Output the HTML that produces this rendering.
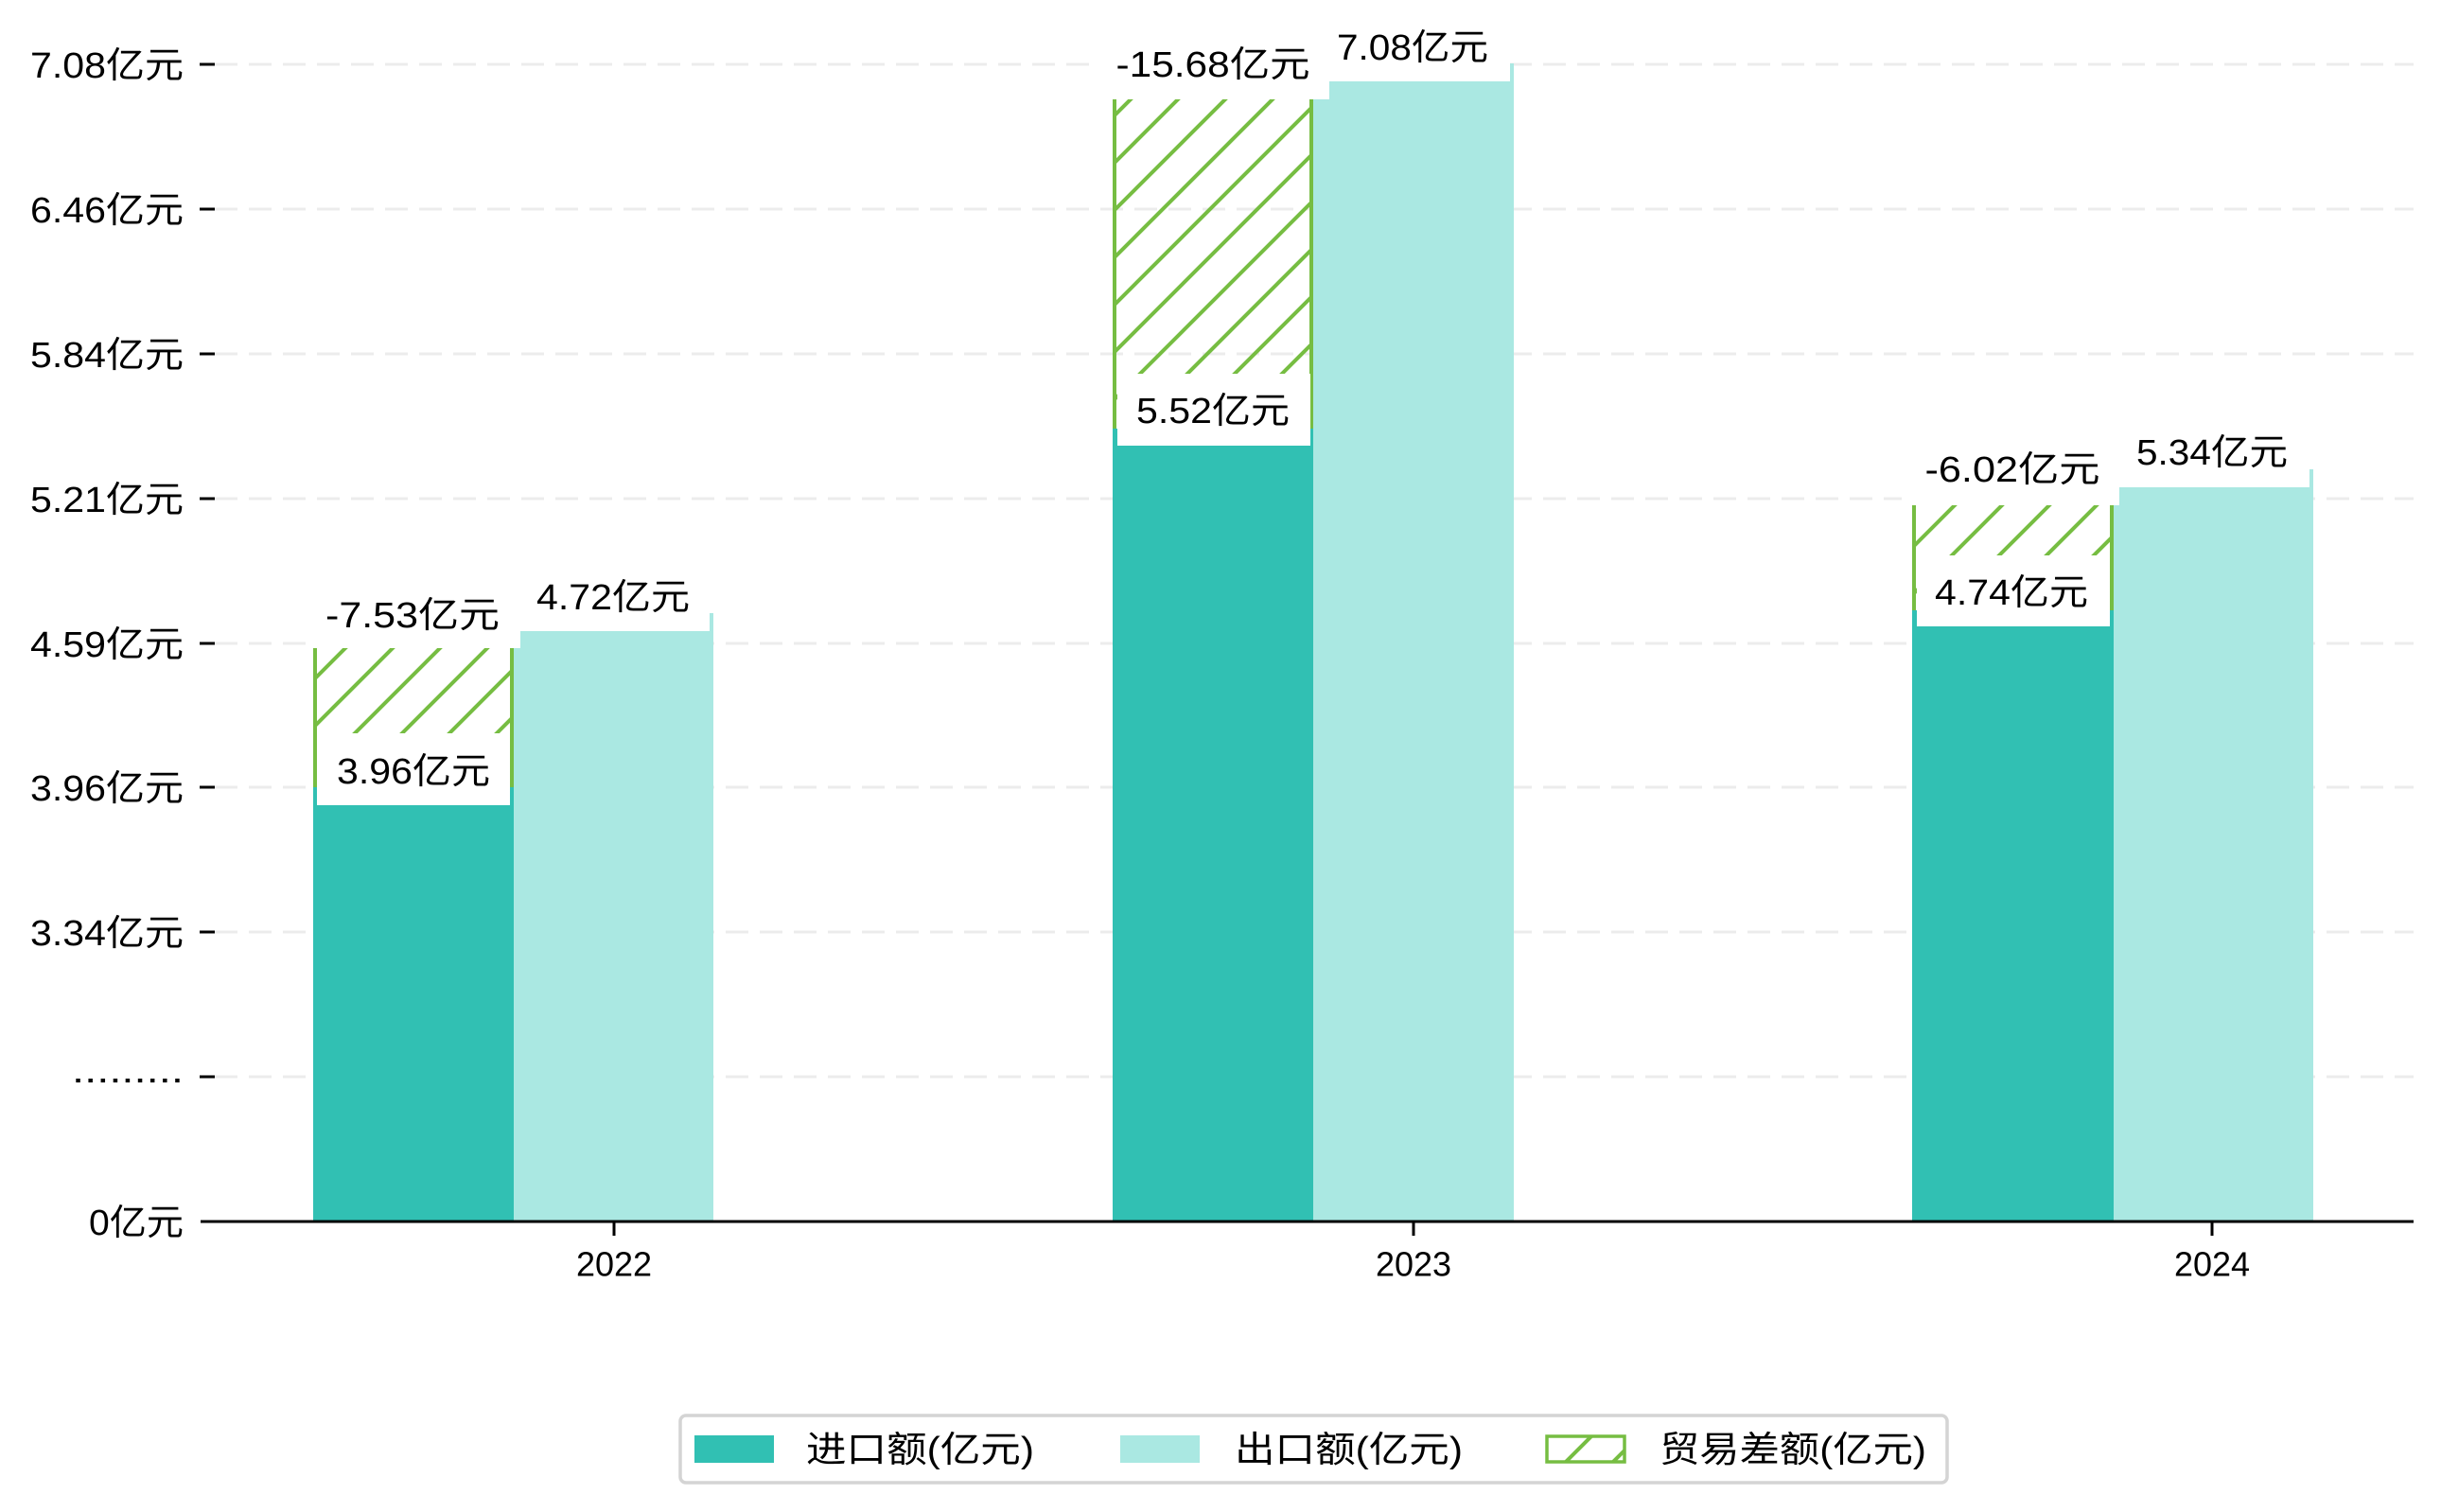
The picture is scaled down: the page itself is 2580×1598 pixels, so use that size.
<!DOCTYPE html>
<html><head><meta charset="utf-8"><style>
html,body{margin:0;padding:0;background:#fff}
svg{display:block}
text{font-family:"Liberation Sans","Noto Sans CJK SC",sans-serif;fill:#000}
</style></head><body>
<svg width="2580" height="1598" viewBox="0 0 2580 1598" xmlns="http://www.w3.org/2000/svg">
<defs>
<pattern id="h" patternUnits="userSpaceOnUse" width="50" height="50">
<path d="M-5,55 L55,-5 M-30,30 L30,-30 M20,80 L80,20" stroke="#76bd42" stroke-width="4"/>
</pattern>
</defs>
<g stroke="#ececec" stroke-width="3" stroke-dasharray="24,12">
<line x1="227" y1="68" x2="2551" y2="68"/>
<line x1="227" y1="221" x2="2551" y2="221"/>
<line x1="227" y1="374" x2="2551" y2="374"/>
<line x1="227" y1="527" x2="2551" y2="527"/>
<line x1="227" y1="680" x2="2551" y2="680"/>
<line x1="227" y1="832" x2="2551" y2="832"/>
<line x1="227" y1="985" x2="2551" y2="985"/>
<line x1="227" y1="1138" x2="2551" y2="1138"/>
</g>
<g stroke="#000" stroke-width="3">
<line x1="211" y1="68" x2="227" y2="68"/>
<line x1="211" y1="221" x2="227" y2="221"/>
<line x1="211" y1="374" x2="227" y2="374"/>
<line x1="211" y1="527" x2="227" y2="527"/>
<line x1="211" y1="680" x2="227" y2="680"/>
<line x1="211" y1="832" x2="227" y2="832"/>
<line x1="211" y1="985" x2="227" y2="985"/>
<line x1="211" y1="1138" x2="227" y2="1138"/>
</g>
<g font-size="38" text-anchor="end" dominant-baseline="central">
<text x="194" y="70" textLength="162" lengthAdjust="spacingAndGlyphs">7.08亿元</text>
<text x="194" y="223" textLength="162" lengthAdjust="spacingAndGlyphs">6.46亿元</text>
<text x="194" y="376" textLength="162" lengthAdjust="spacingAndGlyphs">5.84亿元</text>
<text x="194" y="529" textLength="162" lengthAdjust="spacingAndGlyphs">5.21亿元</text>
<text x="194" y="682" textLength="162" lengthAdjust="spacingAndGlyphs">4.59亿元</text>
<text x="194" y="834" textLength="162" lengthAdjust="spacingAndGlyphs">3.96亿元</text>
<text x="194" y="987" textLength="162" lengthAdjust="spacingAndGlyphs">3.34亿元</text>
<text x="194" y="1132" textLength="118" lengthAdjust="spacingAndGlyphs">.........</text>
<text x="194" y="1293" textLength="100" lengthAdjust="spacingAndGlyphs">0亿元</text>
</g>

<rect x="331" y="832" width="212" height="459" fill="#31c0b3"/>
<rect x="543" y="648" width="211" height="643" fill="#aae8e2"/>
<rect x="331" y="685" width="212" height="147" fill="url(#h)"/>
<path d="M333,685V832M541,685V832" stroke="#76bd42" stroke-width="4"/>

<rect x="1176" y="453" width="212" height="838" fill="#31c0b3"/>
<rect x="1388" y="67" width="212" height="1224" fill="#aae8e2"/>
<rect x="1176" y="105" width="212" height="348" fill="url(#h)"/>
<path d="M1178,105V453M1386,105V453" stroke="#76bd42" stroke-width="4"/>

<rect x="2021" y="645" width="213" height="646" fill="#31c0b3"/>
<rect x="2234" y="496" width="211" height="795" fill="#aae8e2"/>
<rect x="2021" y="534" width="213" height="111" fill="url(#h)"/>
<path d="M2023,534V645M2232,534V645" stroke="#76bd42" stroke-width="4"/>

<g fill="#fff">
<rect x="335" y="775" width="204" height="76"/>
<rect x="325" y="609" width="225" height="76"/>
<rect x="550" y="591" width="200" height="76"/>
<rect x="1181" y="395" width="204" height="76"/>
<rect x="1160" y="29" width="245" height="76"/>
<rect x="1405" y="10" width="191" height="76"/>
<rect x="2026" y="587" width="204" height="75"/>
<rect x="2010" y="458" width="230" height="76"/>
<rect x="2240" y="439" width="201" height="76"/>
</g>
<g font-size="38" text-anchor="middle" dominant-baseline="central">
<text x="436" y="651" textLength="184" lengthAdjust="spacingAndGlyphs">-7.53亿元</text>
<text x="648" y="632" textLength="162" lengthAdjust="spacingAndGlyphs">4.72亿元</text>
<text x="437" y="816" textLength="162" lengthAdjust="spacingAndGlyphs">3.96亿元</text>
<text x="1282" y="69" textLength="205" lengthAdjust="spacingAndGlyphs">-15.68亿元</text>
<text x="1493" y="51" textLength="160" lengthAdjust="spacingAndGlyphs">7.08亿元</text>
<text x="1282" y="435" textLength="162" lengthAdjust="spacingAndGlyphs">5.52亿元</text>
<text x="2127" y="497" textLength="185" lengthAdjust="spacingAndGlyphs">-6.02亿元</text>
<text x="2338" y="479" textLength="160" lengthAdjust="spacingAndGlyphs">5.34亿元</text>
<text x="2126" y="627" textLength="162" lengthAdjust="spacingAndGlyphs">4.74亿元</text>
</g>

<line x1="212" y1="1291" x2="2551" y2="1291" stroke="#000" stroke-width="3"/>
<g stroke="#000" stroke-width="3">
<line x1="649" y1="1291" x2="649" y2="1306"/>
<line x1="1494" y1="1291" x2="1494" y2="1306"/>
<line x1="2338" y1="1291" x2="2338" y2="1306"/>
</g>
<g font-size="36" text-anchor="middle" dominant-baseline="central">
<text x="649" y="1336">2022</text>
<text x="1494" y="1336">2023</text>
<text x="2338" y="1336">2024</text>
</g>

<rect x="719" y="1496" width="1339" height="71" rx="6" fill="#fff" stroke="#d4d4d4" stroke-width="3.5"/>
<rect x="734" y="1517" width="84" height="29" fill="#31c0b3"/>
<rect x="1184" y="1517" width="84" height="29" fill="#aae8e2"/>
<rect x="1635" y="1518" width="82" height="27" fill="url(#h)" stroke="#76bd42" stroke-width="3.5"/>
<g font-size="38" dominant-baseline="central">
<text x="852" y="1533" textLength="241" lengthAdjust="spacingAndGlyphs">进口额(亿元)</text>
<text x="1305" y="1533" textLength="241" lengthAdjust="spacingAndGlyphs">出口额(亿元)</text>
<text x="1754" y="1533" textLength="282" lengthAdjust="spacingAndGlyphs">贸易差额(亿元)</text>
</g>
</svg>
</body></html>
